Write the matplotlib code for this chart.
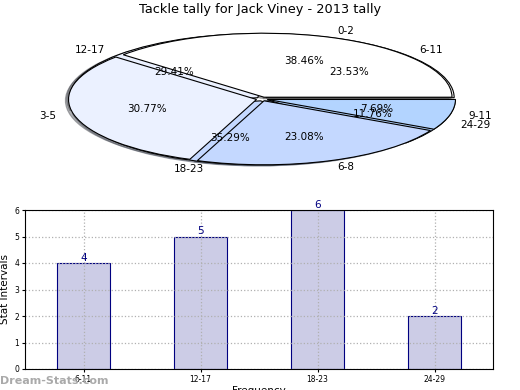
import matplotlib
matplotlib.use("Agg")
import matplotlib.pyplot as plt
import numpy as np

# pie data (two tallies drawn on the same pie)
pie_labels_a = ["0-2", "3-5", "6-8", "9-11"]
pie_values_a = [5, 4, 3, 1]
pie_labels_b = ["6-11", "12-17", "18-23", "24-29"]
pie_values_b = [4, 5, 6, 2]
pie_colors = ["#ffffff", "#ebf1ff", "#c4d8ff", "#b3d4ff"]

# bar data
bar_labels = ["6-11", "12-17", "18-23", "24-29"]
bar_values = [4, 5, 6, 2]

fig = plt.figure(figsize=(5.2, 3.9), dpi=100)

# squashed pie on top
ax_pie = fig.add_axes([74 / 520, (390 - 163) / 390, 376 / 520, 128 / 390])
explode = [0.03] * 4
shadow = dict(ox=-0.012, oy=-0.012, shade=0.6)
for vals, labs in [(pie_values_b, pie_labels_b), (pie_values_a, pie_labels_a)]:
    ax_pie.pie(vals, labels=labs, autopct="%1.2f%%", colors=pie_colors,
               explode=explode, shadow=shadow, startangle=0, labeldistance=1.1,
               pctdistance=0.6, wedgeprops=dict(edgecolor="black", linewidth=0.8),
               textprops=dict(fontsize=7.5))
# keep the first pie's texts visible above the second pie's wedges
for t in ax_pie.texts:
    t.set_zorder(10)
ax_pie.set_aspect("auto")
ax_pie.set_xlim(-1, 1)
ax_pie.set_ylim(-1, 1)
ax_pie.axis("off")
fig.text(0.5, 1 - 10 / 390, "Tackle tally for Jack Viney - 2013 tally",
         ha="center", va="center", fontsize=9.3)

# bar chart below
ax = fig.add_axes([25 / 520, (390 - 369) / 390, 468 / 520, 159 / 390])
x = np.arange(len(bar_values)) + 0.5
bars = ax.bar(x, bar_values, width=0.45, color="#cccce6", edgecolor="#000080", linewidth=0.8)
for xi, v in zip(x, bar_values):
    ax.text(xi, v, str(v), ha="center", va="bottom", color="#000080", fontsize=7.5)
ax.set_xlim(0, 4)
ax.set_ylim(0, 6)
ax.set_xticks(x, bar_labels)
ax.set_yticks(range(7))
ax.tick_params(labelsize=5.5, length=2, pad=2)
ax.set_ylabel("Stat Intervals", fontsize=7.5, labelpad=3)
ax.set_xlabel("Frequency", fontsize=7.5, labelpad=2)
ax.grid(True, linestyle=":", color="#b0b0b0", linewidth=0.9)
for b in bars:
    b.set_zorder(1)

fig.text(0 / 520, 1 - 381 / 390, "Dream-Stats.com", ha="left", va="center",
         fontsize=8, color="#aaaaaa", fontweight="bold")

fig.savefig("out.png", dpi=100)
